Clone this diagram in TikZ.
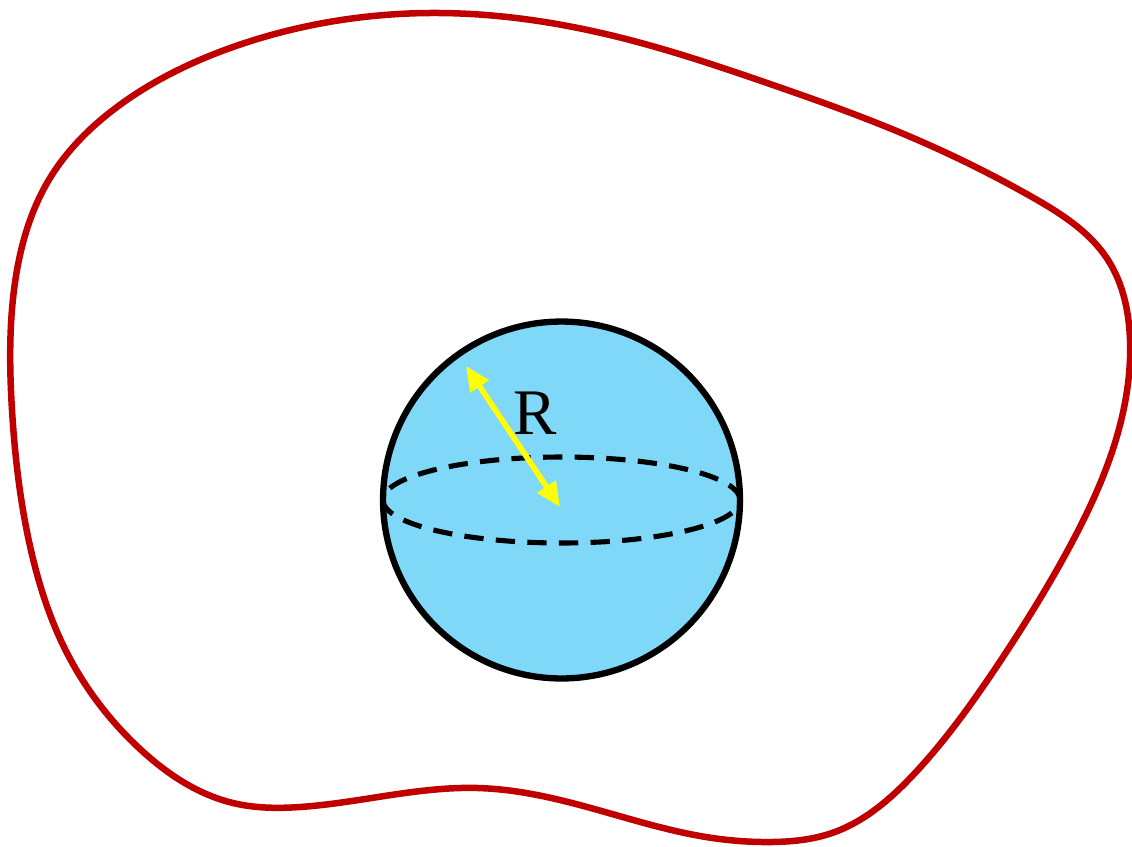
\documentclass[tikz,border=0pt]{standalone}
\usepackage{fontspec}
\setmainfont{Liberation Serif}
\usetikzlibrary{arrows.meta,hobby}

\definecolor{ballblue}{RGB}{128,216,248}
\definecolor{blobred}{RGB}{192,0,0}
\definecolor{arrowyellow}{RGB}{255,255,0}

\begin{document}
\begin{tikzpicture}[
  x=0.02cm, y=-0.02cm,
  blob/.style={draw=blobred, line width=3.7pt},
  ball/.style={circle, draw, line width=3.6pt, fill=ballblue, minimum size=7.14cm, inner sep=0pt},
  equator/.style={dash pattern=on 11pt off 7pt, line width=2.9pt},
  radius/.style={draw=arrowyellow, line width=3.2pt, {Triangle[length=14pt,width=12pt]}-{Triangle[length=14pt,width=12pt]}}
]
  \useasboundingbox (0,0) rectangle (1132,846);

  % region around the ball
  \draw[blob] plot[closed hobby] coordinates {
    (440,13) (614,36) (770,84) (899,132) (1032,197) (1108,260)
    (1130,340) (1112,452) (1070,546) (999,663) (915,773) (832,833)
    (772,842) (706,837) (560,800) (478,788) (300,807) (233,803)
    (140,749) (67,653) (30,546) (12,410) (14,290) (50,178)
    (117,107) (233,47)};

  \node[ball] (ball) at (561.5,500) {};
  \coordinate (c) at (ball.center);
  \draw[equator] (c) ellipse [x radius=3.57cm, y radius=0.86cm];

  \coordinate (rim) at (466,366);
  \coordinate (tip) at (560,507);
  \draw[radius] (rim) -- (tip);
  \node[font=\fontsize{37}{40}\selectfont] (R) at (535,413) {R};
\end{tikzpicture}
\end{document}
